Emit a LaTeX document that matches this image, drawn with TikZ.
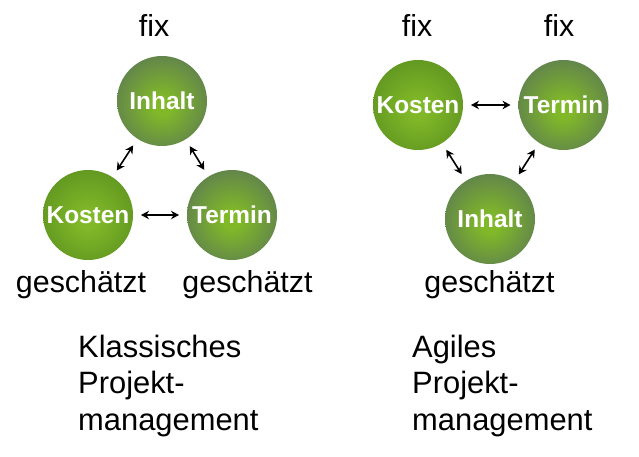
\documentclass[tikz,border=0pt]{standalone}
\usepackage{fontspec}
\setmainfont{Liberation Sans}
\usetikzlibrary{arrows.meta}
\definecolor{ballcenter}{HTML}{80B828}
\definecolor{slatemid}{HTML}{5E7E50}
\definecolor{slateedge}{HTML}{43535C}
\definecolor{greenmid}{HTML}{5E9420}
\definecolor{greenedge}{HTML}{36580E}
\pgfdeclareradialshading{slateball}{\pgfpoint{0bp}{-3bp}}{color(0bp)=(ballcenter); color(5bp)=(ballcenter); color(30bp)=(slatemid); color(47bp)=(slateedge); color(50bp)=(slateedge)}
\pgfdeclareradialshading{greenball}{\pgfpoint{0bp}{-3bp}}{color(0bp)=(ballcenter); color(5bp)=(ballcenter); color(30bp)=(greenmid); color(47bp)=(greenedge); color(50bp)=(greenedge)}
\tikzset{
  ball/.style={circle, minimum size=90bp, inner sep=0pt, outer sep=0pt,
    font=\fontsize{24.5}{27}\selectfont\bfseries, text=white},
  slate/.style={ball, shading=slateball},
  greenish/.style={ball, shading=greenball},
  label text/.style={font=\fontsize{30.5}{35}\selectfont, anchor=base, inner sep=0pt},
  block text/.style={font=\fontsize{31}{36.5}\selectfont, anchor=base west, align=left, inner sep=0pt},
  link/.style={<->, >={Stealth[length=8bp,width=8.5bp]}, line width=1.6bp, shorten <=8bp, shorten >=8bp}
}
\begin{document}
\begin{tikzpicture}[x=1bp,y=-1bp]
\useasboundingbox (0,0) rectangle (639,457);
% left: classic
\node[slate] (li) at (162,101) {Inhalt};
\node[greenish] (lk) at (88,215) {Kosten};
\node[slate] (lt) at (232,215) {Termin};
\draw[link] (li) -- (lk);
\draw[link] (li) -- (lt);
\draw[link] (lk) -- (lt);
\node[label text] (lfix) at (154,37) {fix};
\node[label text] (lg1) at (81,293) {geschätzt};
\node[label text] (lg2) at (247.5,293) {geschätzt};
\node[block text] (lblock) at (78,430) {Klassisches\\Projekt-\\management};
% right: agile
\node[greenish] (rk) at (418,105) {Kosten};
\node[slate] (rt) at (563.5,105) {Termin};
\node[slate] (ri) at (490,219) {Inhalt};
\draw[link] (rk) -- (rt);
\draw[link] (rk) -- (ri);
\draw[link] (rt) -- (ri);
\node[label text] (rfix1) at (417,37) {fix};
\node[label text] (rfix2) at (559,37) {fix};
\node[label text] (rg) at (489.5,293) {geschätzt};
\node[block text] (rblock) at (412,430) {Agiles\\Projekt-\\management};
\end{tikzpicture}
\end{document}
